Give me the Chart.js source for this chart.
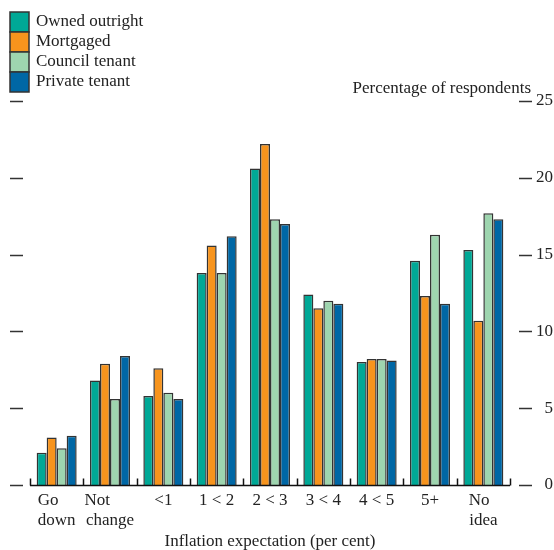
<!DOCTYPE html>
<html><head><meta charset="utf-8">
<script src="https://cdn.jsdelivr.net/npm/chart.js@4"></script>
<style>html,body{margin:0;padding:0;background:#fff}#wrap{width:554px;height:550px}</style>
</head><body><div id="wrap"><canvas id="c" width="554" height="550"></canvas></div>
<script>
const categories = [["Go    ","down"],["Not      ","change"],"<1","1 < 2","2 < 3","3 < 4","4 < 5","5+",["No  ","idea"]];
const seriesNames = ["Owned outright","Mortgaged","Council tenant","Private tenant"];
const ownedOutright = [2.1, 6.8, 5.8, 13.8, 20.6, 12.4, 8.0, 14.6, 15.3];
const mortgaged     = [3.1, 7.9, 7.6, 15.6, 22.2, 11.5, 8.2, 12.3, 10.7];
const councilTenant = [2.4, 5.6, 6.0, 13.8, 17.3, 12.0, 8.2, 16.3, 17.7];
const privateTenant = [3.2, 8.4, 5.6, 16.2, 17.0, 11.8, 8.1, 11.8, 17.3];
const yTicks = [0, 5, 10, 15, 20, 25];
const colors = ["#00a896", "#f7941d", "#9ed5af", "#0067a5"];
const FONT = "'Liberation Serif', serif";
const INK = "#222";

const decor = {
  id: 'decor',
  afterDraw(chart) {
    const ctx = chart.ctx, ca = chart.chartArea, ys = chart.scales.y;
    ctx.save();
    ctx.strokeStyle = "#333"; ctx.lineWidth = 1.5;
    yTicks.forEach(v => {
      const py = Math.round(ys.getPixelForValue(v)) + 0.5;
      ctx.beginPath(); ctx.moveTo(10, py); ctx.lineTo(23, py); ctx.stroke();
      ctx.beginPath(); ctx.moveTo(519, py); ctx.lineTo(532, py); ctx.stroke();
    });
    const by = Math.round(ys.getPixelForValue(0)) + 0.5;
    ctx.strokeStyle = "#111";
    ctx.beginPath(); ctx.moveTo(ca.left, by); ctx.lineTo(ca.right, by); ctx.stroke();
    const n = categories.length, w = (ca.right - ca.left) / n;
    for (let i = 0; i <= n; i++) {
      const px = Math.round(ca.left + i * w) + 0.5;
      ctx.beginPath(); ctx.moveTo(px, by); ctx.lineTo(px, by - 7); ctx.stroke();
    }
    ctx.fillStyle = INK; ctx.font = "17px " + FONT;
    ctx.textAlign = "right"; ctx.textBaseline = "middle";
    ctx.fillText("Percentage of respondents", 531, 89);
    ctx.textAlign = "left";
    chart.data.datasets.forEach((ds, i) => {
      const top = 12 + i * 20;
      ctx.fillStyle = ds.backgroundColor;
      ctx.fillRect(10, top, 19, 20);
      ctx.strokeStyle = "#333"; ctx.lineWidth = 1.5;
      ctx.strokeRect(10, top, 19, 20);
      ctx.fillStyle = INK;
      ctx.fillText(ds.label, 36, top + 10);
    });
    ctx.restore();
  }
};

const mk = (i, data) => ({
  label: seriesNames[i], data, backgroundColor: colors[i],
  borderColor: "#333", borderWidth: 1.5, borderSkipped: 'start',
  barPercentage: 1.0, categoryPercentage: 0.75
});

new Chart(document.getElementById('c'), {
  type: 'bar',
  data: {
    labels: categories,
    datasets: [mk(0, ownedOutright), mk(1, mortgaged), mk(2, councilTenant), mk(3, privateTenant)]
  },
  options: {
    responsive: false, animation: false, devicePixelRatio: 1,
    layout: { padding: { left: 30, top: 101, right: 1, bottom: 0 } },
    plugins: { legend: { display: false }, tooltip: { enabled: false }, title: { display: false } },
    scales: {
      x: {
        grid: { display: false, drawTicks: false }, border: { display: false },
        ticks: { color: INK, font: { family: FONT, size: 17, lineHeight: 1.15 }, padding: 6, maxRotation: 0, autoSkip: false },
        title: { display: true, text: "Inflation expectation (per cent)", color: INK, font: { family: FONT, size: 17, lineHeight: 1.0 }, padding: { top: 0, bottom: 0 } },
        afterFit(s) { s.height = 65; }
      },
      y: {
        position: 'right', min: 0, max: 25,
        afterBuildTicks(s) { s.ticks = yTicks.map(v => ({ value: v })); },
        grid: { display: false, drawTicks: false }, border: { display: false },
        ticks: { color: INK, font: { family: FONT, size: 17 }, padding: 25, crossAlign: 'far' },
        afterFit(s) { s.width = 43; }
      }
    }
  },
  plugins: [decor]
});
</script></body></html>
